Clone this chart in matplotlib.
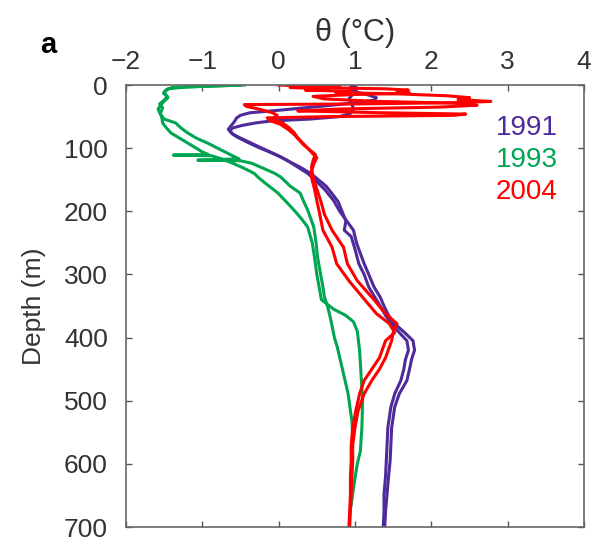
import numpy as np
import matplotlib
matplotlib.use("Agg")
from matplotlib import pyplot as plt

plt.rcParams['font.family'] = ['Liberation Sans', 'DejaVu Sans']

years = ["1991", "1993", "2004"]
colors = ["#4f2a9a", "#00a651", "#ff0000"]

# 1991 casts (depth in m, potential temperature in degC)
d91a = [0, 4, 8, 12, 16, 20, 24, 28, 32, 36, 40, 44, 48, 52, 58, 64, 70, 76, 82, 90,
        98, 106, 114, 122, 130, 140, 150, 160, 172, 185, 200, 215, 230, 240, 260, 283,
        300, 320, 336, 350, 365, 378, 392, 405, 420, 435, 450, 468, 489, 510, 543, 570,
        595, 620, 648, 675, 700]
t91a = [0.95, 1.02, 0.98, 1.05, 1.18, 1.28, 1.25, 1.02, 0.70, 0.35, 0.00, -0.38, -0.50,
        -0.55, -0.58, -0.62, -0.66, -0.62, -0.55, -0.42, -0.28, -0.12, 0.03, 0.15, 0.28,
        0.42, 0.52, 0.62, 0.70, 0.78, 0.83, 0.88, 0.86, 0.95, 1.00, 1.05, 1.12, 1.18, 1.26,
        1.33, 1.40, 1.48, 1.58, 1.68, 1.70, 1.66, 1.64, 1.60, 1.52, 1.47, 1.43, 1.42, 1.41,
        1.40, 1.38, 1.38, 1.37]
d91b = [0, 5, 10, 16, 22, 30, 38, 45, 50, 54, 57, 60, 64, 68, 72, 78, 84, 92, 100, 110,
        120, 130, 140, 151, 165, 183, 200, 230, 250, 270, 283, 300, 320, 336, 350, 365,
        378, 392, 405, 420, 435, 447, 468, 489, 510, 543, 570, 595, 620, 648, 675, 700]
t91b = [0.98, 0.93, 1.00, 0.96, 0.92, 0.96, 0.98, 0.94, 0.80, 0.40, -0.10, -0.30, -0.48,
        -0.60, -0.64, -0.60, -0.50, -0.36, -0.22, -0.04, 0.12, 0.25, 0.38, 0.48, 0.60,
        0.72, 0.80, 0.98, 1.02, 1.08, 1.12, 1.18, 1.25, 1.33, 1.38, 1.44, 1.52, 1.65, 1.76,
        1.78, 1.74, 1.72, 1.68, 1.58, 1.52, 1.48, 1.47, 1.46, 1.44, 1.42, 1.40, 1.39]

# 1993 casts
d93a = [0, 2, 4, 8, 13, 18, 24, 30, 36, 45, 52, 60, 68, 76, 84, 92, 100, 106, 110, 111,
        112, 118, 124, 132, 140, 146, 155, 171, 185, 198, 212, 225, 250, 273, 300, 320,
        340, 355, 365, 375, 390, 420, 460, 500, 543, 580, 600, 630, 665]
t93a = [-0.50, -0.95, -1.40, -1.48, -1.51, -1.46, -1.50, -1.56, -1.52, -1.55, -1.53,
        -1.52, -1.47, -1.41, -1.30, -1.19, -1.08, -1.00, -0.92, -1.38, -0.88, -0.72, -0.60,
        -0.45, -0.32, -0.27, -0.18, -0.01, 0.10, 0.20, 0.30, 0.38, 0.44, 0.47, 0.50, 0.53,
        0.56, 0.72, 0.88, 0.98, 1.03, 1.06, 1.08, 1.10, 1.09, 1.07, 1.03, 0.99, 0.95]
d93b = [0, 3, 6, 12, 20, 28, 38, 46, 54, 60, 68, 76, 84, 92, 100, 108, 117, 119, 120,
        124, 132, 140, 146, 160, 171, 185, 198, 225, 250, 273, 300, 320, 336, 350, 370,
        400, 416, 437, 468, 489, 516, 532, 560]
t93b = [-0.45, -1.20, -1.45, -1.50, -1.45, -1.52, -1.58, -1.55, -1.50, -1.35, -1.28,
        -1.19, -1.08, -0.93, -0.80, -0.67, -0.52, -1.06, -0.50, -0.35, -0.20, -0.05, 0.03,
        0.15, 0.28, 0.33, 0.38, 0.46, 0.49, 0.51, 0.55, 0.58, 0.60, 0.64, 0.68, 0.73, 0.77,
        0.81, 0.87, 0.91, 0.94, 0.96, 0.97]

# 2004 casts
d04a = [0, 2, 4, 6, 8, 10, 12, 14, 17, 20, 23, 26, 28, 30, 31, 34, 37, 40, 44, 48, 54,
        60, 68, 75, 82, 90, 100, 108, 115, 125, 140, 151, 165, 183, 200, 230, 257, 283,
        310, 336, 362, 378, 392, 405, 432, 450, 468, 489, 516, 543, 570, 595, 620, 648,
        675, 700]
t04a = [0.00, 0.45, 0.15, 0.65, 0.35, 0.95, 0.75, 1.55, 2.20, 2.50, 2.35, 2.78, 2.30,
        1.00, -0.45, -0.42, -0.30, -0.20, -0.08, -0.02, -0.08, 0.05, 0.14, 0.20, 0.24,
        0.30, 0.38, 0.44, 0.50, 0.46, 0.42, 0.44, 0.47, 0.50, 0.53, 0.58, 0.70, 0.76, 0.92,
        1.10, 1.28, 1.45, 1.52, 1.40, 1.32, 1.22, 1.12, 1.06, 1.01, 0.97, 0.95, 0.95, 0.94,
        0.94, 0.93, 0.92]
d04b = [0, 2, 4, 6, 8, 10, 13, 15, 18, 22, 26, 29, 32, 35, 38, 41, 44, 46, 48, 50, 52,
        56, 62, 70, 78, 86, 94, 102, 110, 120, 130, 145, 165, 183, 205, 230, 257, 283,
        310, 336, 362, 378, 392, 405, 432, 450, 468, 489, 516, 543, 570, 595, 620, 648,
        675, 700]
t04b = [0.15, 0.80, 0.40, 1.40, 1.70, 1.55, 1.72, 1.00, 0.45, 0.60, 1.30, 2.45, 2.60,
        2.10, 0.80, 0.25, 1.40, 2.45, 2.30, 0.70, -0.15, -0.12, 0.02, 0.12, 0.20, 0.26,
        0.32, 0.40, 0.48, 0.45, 0.43, 0.45, 0.50, 0.55, 0.60, 0.70, 0.85, 0.90, 1.03, 1.22,
        1.40, 1.55, 1.50, 1.48, 1.40, 1.32, 1.22, 1.12, 1.04, 1.00, 0.97, 0.97, 0.96, 0.95,
        0.94, 0.93]

casts = [[(d91a, t91a), (d91b, t91b)],
         [(d93a, t93a), (d93b, t93b)],
         [(d04a, t04a), (d04b, t04b)]]

fig = plt.figure(figsize=(6.04, 5.45), dpi=100)
ax = fig.add_axes([0.2086, 0.0330, 0.7583, 0.8110])

for k in range(3):
    for d, t in casts[k]:
        ax.plot(t, d, color=colors[k], lw=2.2)

ax.set_xlim(-2, 4)
ax.set_ylim(700, 0)
ax.set_xticks(np.arange(-2, 5, 1))
ax.set_yticks(np.arange(0, 701, 100))
ax.set_xticklabels(["\u22122", "\u22121", "0", "1", "2", "3", "4"])
ax.xaxis.tick_top()
ax.tick_params(direction="in", length=4, width=1, color="#555555",
               top=True, bottom=True, left=True, right=True,
               labeltop=True, labelbottom=False, labelsize=19,
               labelcolor="#333333")
ax.tick_params(axis="x", pad=8)
ax.tick_params(axis="y", pad=13)
for s in ax.spines.values():
    s.set_color("#666666")
    s.set_linewidth(1.2)

ax.xaxis.set_label_position("top")
ax.set_xlabel("\u03b8 (\u00b0C)", fontsize=22, color="#333333")
ax.xaxis.set_label_coords(0.5, 1.10)
ax.set_ylabel("Depth (m)", fontsize=19, color="#333333")
ax.yaxis.set_label_coords(-0.175, 0.5)

ypos = [0.903, 0.830, 0.758]
for k in range(3):
    ax.text(0.943, ypos[k], years[k], color=colors[k], fontsize=20,
            ha="right", va="center", transform=ax.transAxes)

fig.text(40/604, 1-45/545, "a", fontsize=21, fontweight="bold", va="center")

fig.savefig("out.png", dpi=100)
